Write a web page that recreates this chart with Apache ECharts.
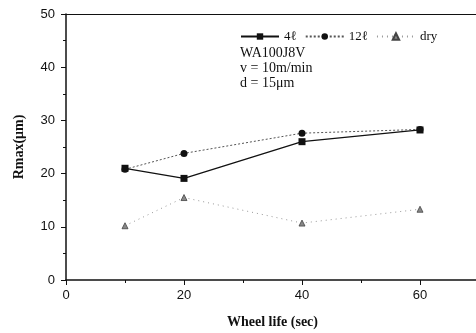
<!DOCTYPE html>
<html>
<head>
<meta charset="utf-8">
<script src="https://cdn.jsdelivr.net/npm/echarts@6/dist/echarts.min.js"></script>
<style>
  html, body { margin: 0; padding: 0; background: #fff; }
  #chart { width: 476px; height: 333px; }
</style>
</head>
<body>
<div id="chart"></div>
<script>
// Wheel life (sec) against maximum roughness Rmax (µm) for three coolant conditions
const wheelLife = [10, 20, 40, 60];
const rmax4l = [21.0, 19.1, 26.0, 28.2];
const rmax12l = [20.8, 23.8, 27.6, 28.3];
const rmaxDry = [10.2, 15.5, 10.7, 13.3];
const seriesNames = ['4\u2113', '12\u2113', 'dry'];
const noteLines = ['WA100J8V', 'v = 10m/min', 'd = 15\u03bcm'];

const serif = '"Liberation Serif", "Times New Roman", serif';
const sans = '"Liberation Sans", Arial, sans-serif';

const pairs = arr => wheelLife.map((x, i) => [x, arr[i]]);

const chart = echarts.init(document.getElementById('chart'), null, { renderer: 'canvas' });
chart.setOption({
  animation: false,
  backgroundColor: '#ffffff',
  grid: { left: 66, top: 14, right: -3, bottom: 53, outerBoundsMode: 'none', containLabel: false },
  legend: {
    left: 235, top: 25,
    itemWidth: 38, itemHeight: 8, itemGap: 8,
    textStyle: { fontFamily: serif, fontSize: 13, color: '#111' },
    data: seriesNames
  },
  xAxis: [{
    type: 'value', min: 0, max: 70, interval: 20,
    name: 'Wheel life (sec)', nameLocation: 'middle', nameGap: 35,
    nameTextStyle: { fontFamily: serif, fontWeight: 'bold', fontSize: 14, color: '#111' },
    axisLine: { lineStyle: { color: '#111', width: 1.5 } },
    axisTick: { show: true, length: 5, lineStyle: { color: '#111' } },
    minorTick: { show: true, splitNumber: 2, length: 3, lineStyle: { color: '#111' } },
    axisLabel: { fontFamily: sans, fontSize: 13, color: '#111', margin: 9, showMaxLabel: false },
    splitLine: { show: false }
  }, {
    type: 'value', min: 0, max: 70, position: 'top',
    axisLine: { show: true, onZero: false, lineStyle: { color: '#111', width: 1.2 } },
    axisTick: { show: false }, axisLabel: { show: false }, splitLine: { show: false }
  }],
  yAxis: {
    type: 'value', min: 0, max: 50, interval: 10,
    name: 'Rmax(\u03bcm)', nameLocation: 'middle', nameGap: 40,
    nameTextStyle: { fontFamily: serif, fontWeight: 'bold', fontSize: 14, color: '#111' },
    axisLine: { show: true, lineStyle: { color: '#111', width: 1.5 } },
    axisTick: { show: true, length: 5, lineStyle: { color: '#111' } },
    minorTick: { show: true, splitNumber: 2, length: 3, lineStyle: { color: '#111' } },
    axisLabel: { fontFamily: sans, fontSize: 13, color: '#111', margin: 11 },
    splitLine: { show: false }
  },
  graphic: noteLines.map((t, i) => ({
    type: 'text', left: 240, top: 46 + i * 15,
    style: { text: t, fontFamily: serif, fontSize: 14, fill: '#111' }
  })),
  series: [{
    name: seriesNames[0], type: 'line', data: pairs(rmax4l),
    symbol: 'rect', symbolSize: 7,
    itemStyle: { color: '#111' },
    lineStyle: { color: '#111', width: 1.3, type: 'solid' }
  }, {
    name: seriesNames[1], type: 'line', data: pairs(rmax12l),
    symbol: 'circle', symbolSize: 7,
    itemStyle: { color: '#111' },
    lineStyle: { color: '#555', width: 1, type: [2, 2] }
  }, {
    name: seriesNames[2], type: 'line', data: pairs(rmaxDry),
    symbol: 'triangle', symbolSize: 6,
    itemStyle: { color: '#888', borderColor: '#444', borderWidth: 0.8 },
    lineStyle: { color: '#999', width: 1, type: [1, 4] }
  }]
});
</script>
</body>
</html>
